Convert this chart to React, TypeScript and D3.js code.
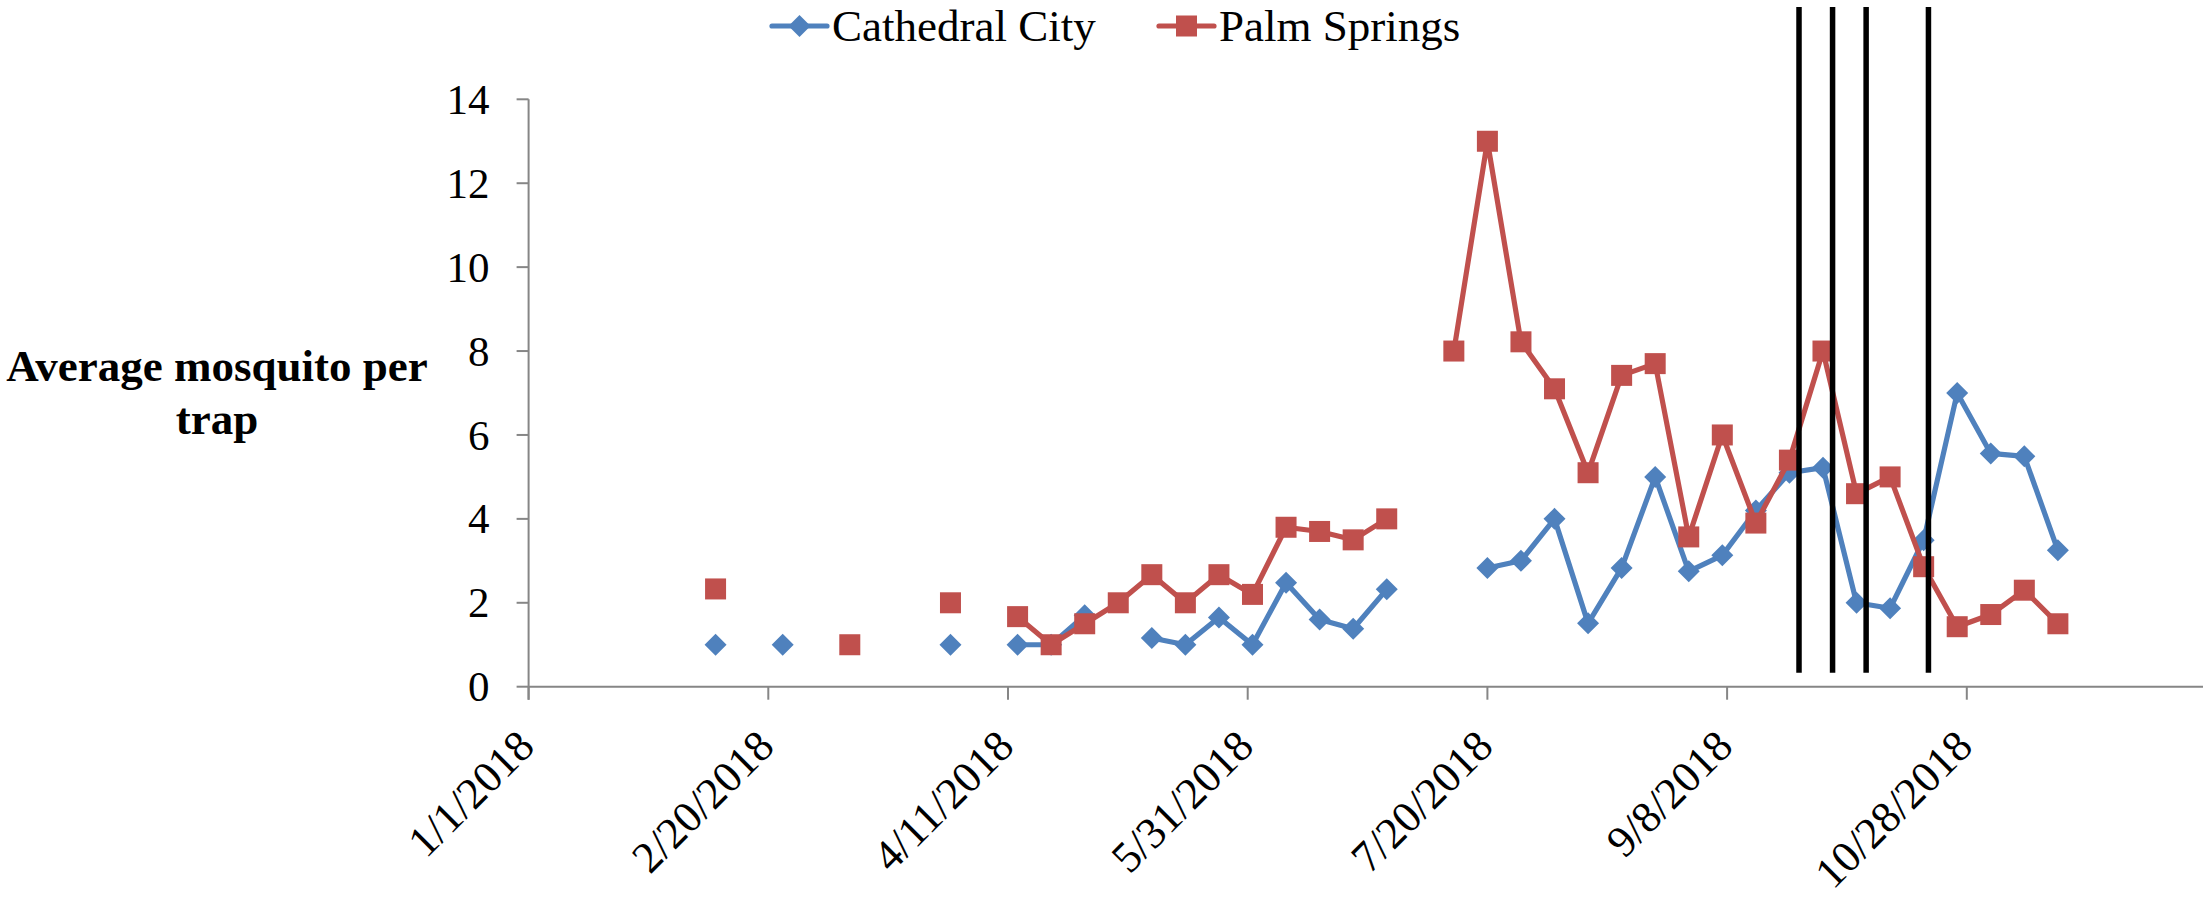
import React from 'react';
import * as d3 from 'd3';

// weekly trap dates
const dates = [
  '2018-02-09', '2018-02-16', '2018-02-23', '2018-03-02', '2018-03-09', '2018-03-16', '2018-03-23',
  '2018-03-30', '2018-04-06', '2018-04-13', '2018-04-20', '2018-04-27', '2018-05-04', '2018-05-11',
  '2018-05-18', '2018-05-25', '2018-06-01', '2018-06-08', '2018-06-15', '2018-06-22', '2018-06-29',
  '2018-07-06', '2018-07-13', '2018-07-20', '2018-07-27', '2018-08-03', '2018-08-10', '2018-08-17',
  '2018-08-24', '2018-08-31', '2018-09-07', '2018-09-14', '2018-09-21', '2018-09-28', '2018-10-05',
  '2018-10-12', '2018-10-19', '2018-10-26', '2018-11-02', '2018-11-09', '2018-11-16',
];

const cathedralCity = [
  1, null, 1, null, null, null, null, 1, null, 1, 1, 1.7, null, 1.16, 1.0, 1.65, 1.0, 2.48, 1.6, 1.38,
  2.32, null, null, 2.83, 3.0, 4.0, 1.51, 2.83, 5.0, 2.75, 3.13, 4.2, 5.1, 5.22, 2.0, 1.87, 3.49, 7.0,
  5.56, 5.49, 3.25,
];

const palmSprings = [
  2.33, null, null, null, 1.0, null, null, 2.0, null, 1.67, 1.0, 1.5, 2.0, 2.67, 2.0, 2.67, 2.2, 3.8,
  3.7, 3.5, 4.0, null, 8.0, 13.0, 8.22, 7.1, 5.1, 7.42, 7.7, 3.57, 6.0, 3.9, 5.4, 8.0, 4.6, 5.0, 2.86,
  1.43, 1.72, 2.3, 1.5,
];

const xTickLabels = ['1/1/2018', '2/20/2018', '4/11/2018', '5/31/2018', '7/20/2018', '9/8/2018', '10/28/2018'];
const yTicks = [0, 2, 4, 6, 8, 10, 12, 14];

// black vertical marker lines
const markerDates = ['2018-09-23', '2018-09-30', '2018-10-07', '2018-10-20'];
const markerTop = 16.2;
const markerBottom = 0.33;

const BLUE = '#4F81BD';
const RED = '#C0504D';
const AXIS = '#868686';
const FONT = '"Liberation Serif", "Times New Roman", serif';

const W = 2203;
const H = 897;

const parseIso = d3.utcParse('%Y-%m-%d');
const parseTick = d3.utcParse('%m/%d/%Y');

export default function App() {
  const x = d3.scaleUtc()
    .domain([parseIso('2018-01-01'), parseIso('2018-12-17')])
    .range([528.6, 2206.5]);
  const y = d3.scaleLinear().domain([0, 14]).range([686.7, 99.3]);

  const series = [
    { name: 'Cathedral City', values: cathedralCity, color: BLUE, shape: 'diamond' },
    { name: 'Palm Springs', values: palmSprings, color: RED, shape: 'square' },
  ];

  const line = d3.line<any>()
    .defined((d) => d.v != null)
    .x((d) => x(d.date))
    .y((d) => y(d.v));

  const marker = (shape: string, cx: number, cy: number, color: string, key: any) =>
    shape === 'square' ? (
      <rect key={key} x={cx - 10.5} y={cy - 10.5} width={21} height={21} fill={color} />
    ) : (
      <path key={key} d={`M${cx},${cy - 11}L${cx + 11},${cy}L${cx},${cy + 11}L${cx - 11},${cy}Z`} fill={color} />
    );

  const y0 = y(0);

  return (
    <svg width={W} height={H} style={{ position: 'absolute', left: 0, top: 0, background: '#fff' }}>
      <rect width={W} height={H} fill="#fff" />

      {/* y axis */}
      <line x1={x.range()[0]} x2={x.range()[0]} y1={y(14)} y2={y0 + 13} stroke={AXIS} strokeWidth={2} />
      {yTicks.map((t) => (
        <g key={t}>
          <line x1={x.range()[0] - 12} x2={x.range()[0]} y1={y(t)} y2={y(t)} stroke={AXIS} strokeWidth={2} />
          <text x={x.range()[0] - 39} y={y(t)} dy="0.34em" textAnchor="end" fontFamily={FONT} fontSize={43}>
            {t}
          </text>
        </g>
      ))}

      {/* x axis */}
      <line x1={x.range()[0]} x2={W} y1={y0} y2={y0} stroke={AXIS} strokeWidth={2} />
      {xTickLabels.map((lbl) => {
        const px = x(parseTick(lbl));
        return (
          <g key={lbl}>
            <line x1={px} x2={px} y1={y0} y2={y0 + 13} stroke={AXIS} strokeWidth={2} />
            <text
              transform={`translate(${px + 8},${y0 + 62}) rotate(-45)`}
              textAnchor="end"
              fontFamily={FONT}
              fontSize={44}
            >
              {lbl}
            </text>
          </g>
        );
      })}

      {/* y axis title */}
      <text x={217} y={381} textAnchor="middle" fontFamily={FONT} fontSize={45} fontWeight="bold">
        Average mosquito per
      </text>
      <text x={217} y={434} textAnchor="middle" fontFamily={FONT} fontSize={45} fontWeight="bold">
        trap
      </text>

      {/* series */}
      {series.map((s) => {
        const pts = s.values.map((v, i) => ({ date: parseIso(dates[i]), v }));
        return (
          <g key={s.name}>
            <path d={line(pts) || ''} fill="none" stroke={s.color} strokeWidth={5.2} strokeLinejoin="round" />
            {pts.filter((p) => p.v != null).map((p, i) => marker(s.shape, x(p.date), y(p.v as number), s.color, i))}
          </g>
        );
      })}

      {/* vertical marker lines */}
      {markerDates.map((d) => {
        const px = x(parseIso(d));
        return <line key={d} x1={px} x2={px} y1={y(markerTop)} y2={y(markerBottom)} stroke="#000" strokeWidth={5.5} />;
      })}

      {/* legend */}
      {series.map((s, i) => {
        const lx = i === 0 ? 772 : 1159;
        return (
          <g key={s.name}>
            <line x1={lx} x2={lx + 55} y1={26} y2={26} stroke={s.color} strokeWidth={5.2} strokeLinecap="round" />
            {marker(s.shape, lx + 27.5, 26, s.color, 'm')}
            <text x={lx + 60} y={41} fontFamily={FONT} fontSize={45}>
              {s.name}
            </text>
          </g>
        );
      })}
    </svg>
  );
}
